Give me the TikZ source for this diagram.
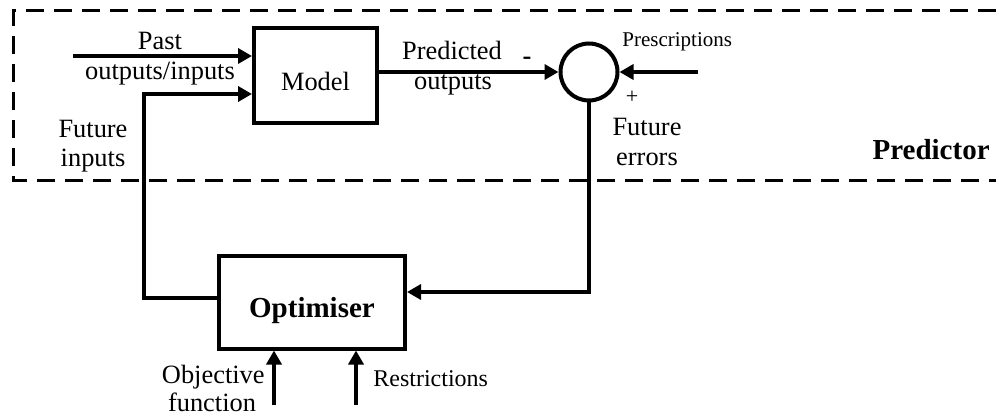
\documentclass[tikz,border=0pt]{standalone}
\usepackage{fontspec}
\setmainfont{Liberation Serif}
\usetikzlibrary{arrows.meta, positioning, calc}

\begin{document}
\begin{tikzpicture}[x=0.5pt, y=-0.5pt,
  blk/.style={draw, line width=2pt, rectangle, inner sep=0pt, text depth=0pt},
  arr/.style={line width=2pt, -{Triangle[length=7pt, width=7.5pt]}},
  txt/.style={inner sep=0pt, font=\fontsize{13.2}{15}\selectfont},
  bold/.style={inner sep=0pt, font=\fontsize{14.5}{17}\selectfont\bfseries}]
  \useasboundingbox (0,0) rectangle (996,417);

  % predictor frame
  \draw[line width=1.5pt, dash pattern=on 9pt off 5pt] (996,11) -- (13,11) -- (13,180) -- (996,180);
  \node[bold, anchor=base east] (predictor) at (990,160) {Predictor};

  % blocks
  \node[blk, txt, minimum width=61.5pt, minimum height=47.5pt, text height=15.3pt] (model) at (315.5,75.5) {Model};
  \node[circle, draw, line width=2pt, minimum size=28.5pt, inner sep=0pt] (sum) at (589,72) {};
  \node[blk, bold, minimum width=93pt, minimum height=46.5pt, text height=15.6pt] (opt) at (312,302) {Optimiser};

  % free ends
  \coordinate (pastin) at (73,56);
  \coordinate (futin) at (144,94);
  \coordinate (presc) at (698,72);
  \coordinate (objin) at (274,405);
  \coordinate (resin) at (356,405);

  % connectors
  \draw[arr] (pastin) -- (pastin -| model.west);
  \draw[arr] ([yshift=2pt]opt.west) -| (futin) -- (futin -| model.west);
  \draw[arr] (model.east |- sum.west) -- (sum.west);
  \draw[arr] (presc) -- (sum.east);
  \draw[arr] (sum.south) |- ([yshift=5pt]opt.east);
  \draw[arr] (objin) -- (objin |- opt.south);
  \draw[arr] (resin) -- (resin |- opt.south);

  % labels
  \node[txt, anchor=base] (pastl) at (160,50) {Past};
  \node[txt, anchor=base] (pastm) at (160,80) {outputs/inputs};
  \node[txt, anchor=base] (futl) at (93,138) {Future};
  \node[txt, anchor=base] (futm) at (93,167) {inputs};
  \node[txt, anchor=base] (predl) at (452,60) {Predicted};
  \node[txt, anchor=base] (predm) at (453,90) {outputs};
  \node[txt, font=\fontsize{13.2}{15}\selectfont\bfseries] (minus) at (527,61) {-};
  \node[inner sep=0pt, anchor=base west, font=\fontsize{10.5}{12}\selectfont] (prescl) at (622,47) {Prescriptions};
  \node[inner sep=0pt, font=\fontsize{11}{12}\selectfont] (plus) at (632,97) {+};
  \node[txt, anchor=base] (errl) at (647,135) {Future};
  \node[txt, anchor=base] (errm) at (647,165) {errors};
  \node[txt, anchor=base east] (objl) at (265,383) {Objective};
  \node[txt, anchor=base] (objm) at (212,411) {function};
  \node[inner sep=0pt, anchor=base west, font=\fontsize{12}{14}\selectfont] (resl) at (373,386) {Restrictions};
\end{tikzpicture}
\end{document}
